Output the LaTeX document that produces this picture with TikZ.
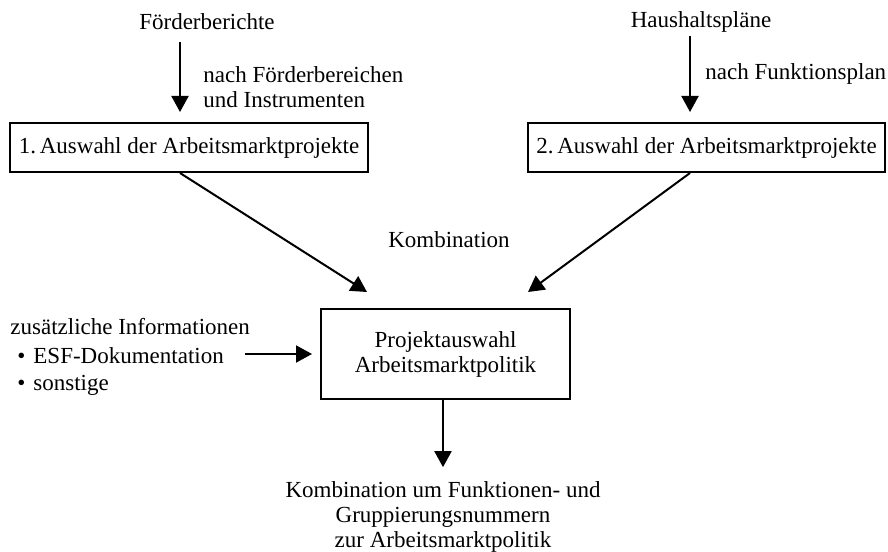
\documentclass[tikz,border=0pt]{standalone}
\usepackage{fontspec}
\setmainfont{Liberation Serif}
\usetikzlibrary{arrows.meta}
\begin{document}
\begin{tikzpicture}[x=0.5pt, y=-0.5pt,
    font=\fontsize{11.5}{12.5}\selectfont,
    box/.style={rectangle, draw, line width=1pt, align=center, inner sep=0pt},
    txt/.style={inner sep=0pt, align=center},
    arrow/.style={-{Triangle[width=8.5pt,length=8pt]}, line width=1pt}
]
    \useasboundingbox (0,0) rectangle (888,551);

    % Sources
    \node[txt] (foerder) at (207,22) {Förderberichte};
    \node[txt] (haushalt) at (701,22) {Haushaltspläne};
    \node[txt, anchor=west, align=left] (foerdernote) at (203,87) {nach Förderbereichen\\und Instrumenten};
    \node[txt, anchor=west] (haushaltnote) at (705,74) {nach Funktionsplan};
    \coordinate (foerderout) at (180,42);
    \coordinate (haushaltout) at (690,36);

    % Selection boxes
    \node[box, minimum width=179pt, minimum height=24.5pt] (auswahl1) at (189,147.5) {1.\,Auswahl der Arbeitsmarktprojekte};
    \node[box, minimum width=178.5pt, minimum height=24.5pt] (auswahl2) at (706.5,147.5) {2.\,Auswahl der Arbeitsmarktprojekte};

    % Central node
    \node[txt] (kombination) at (449,240) {Kombination};
    \node[box, minimum width=124.5pt, minimum height=45pt] (projekt) at (445.5,354) {Projektauswahl\\Arbeitsmarktpolitik};
    \coordinate (kombi1) at (367,292);
    \coordinate (kombi2) at (528,292);

    % Additional input
    \node[txt, anchor=west, align=left] (zusatz) at (10,357) {zusätzliche Informationen\\[2pt]
        \hspace*{3.5pt}•\hspace{4pt}ESF-Dokumentation\\[1pt]
        \hspace*{3.5pt}•\hspace{4pt}sonstige};
    \coordinate (zusatzout) at (245,354);

    % Result
    \node[txt] (ergebnis) at (443,517) {Kombination um Funktionen- und\\Gruppierungsnummern\\zur Arbeitsmarktpolitik};

    % Arrows
    \draw[arrow, shorten >=5pt] (foerderout) -- (foerderout |- auswahl1.north);
    \draw[arrow, shorten >=5pt] (haushaltout) -- (haushaltout |- auswahl2.north);
    \draw[arrow] (foerderout |- auswahl1.south) -- (kombi1);
    \draw[arrow] (haushaltout |- auswahl2.south) -- (kombi2);
    \draw[arrow, shorten >=4pt] (zusatzout) -- (projekt.west);
    \draw[arrow, shorten >=7pt] (ergebnis |- projekt.south) -- (ergebnis.north);
\end{tikzpicture}
\end{document}
